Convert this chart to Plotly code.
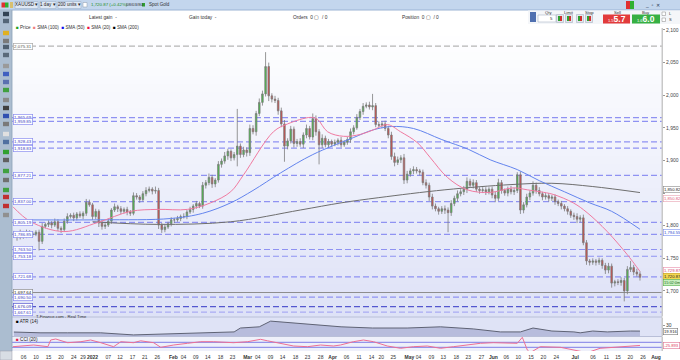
import plotly.graph_objects as go

W, H = 680, 360
def px(x): return x / W
def py(y): return 1 - y / H

# ---------------- data ----------------
bars = list(range(200))
close = [1786, 1782, 1789, 1784, 1790, 1787, 1787, 1790, 1776, 1799,
         1802, 1804, 1801, 1806, 1796, 1794, 1807, 1814, 1816, 1812,
         1818, 1815, 1819, 1836, 1832, 1814, 1822, 1804, 1799, 1801,
         1807, 1824, 1829, 1826, 1822, 1825, 1821, 1819, 1846, 1844,
         1840, 1849, 1854, 1856, 1853, 1854, 1801, 1794, 1798, 1803,
         1809, 1809, 1811, 1814, 1814, 1821, 1825, 1830, 1834, 1830,
         1862, 1866, 1874, 1864, 1870, 1894, 1899, 1907, 1914, 1904,
         1909, 1922, 1909, 1916, 1912, 1949, 1944, 1972, 1989, 2002,
         2044, 1999, 1994, 1992, 1976, 1956, 1922, 1930, 1948, 1926,
         1929, 1925, 1939, 1949, 1936, 1964, 1944, 1924, 1934, 1924,
         1929, 1925, 1928, 1931, 1924, 1928, 1932, 1944, 1950, 1966,
         1975, 1983, 1985, 1982, 1984, 1955, 1954, 1956, 1949, 1939,
         1906, 1897, 1901, 1904, 1870, 1879, 1884, 1886, 1884, 1882,
         1866, 1862, 1844, 1830, 1826, 1822, 1826, 1824, 1820, 1834,
         1842, 1849, 1852, 1856, 1868, 1862, 1866, 1856, 1854, 1855,
         1852, 1856, 1847, 1842, 1866, 1854, 1850, 1856, 1852, 1854,
         1878, 1824, 1832, 1844, 1850, 1862, 1854, 1849, 1844, 1846,
         1842, 1844, 1837, 1834, 1830, 1826, 1822, 1816, 1814, 1810,
         1812, 1774, 1746, 1744, 1746, 1744, 1747, 1739, 1732, 1738,
         1712, 1714, 1713, 1716, 1700, 1733, 1736, 1729, 1726, 1720.87]
first_open = 1788
upper_wick = [4, 3, 5, 3, 4, 3, 4, 3, 4, 5,
              3, 4, 3, 5, 4, 3, 4, 5, 3, 4,
              3, 4, 3, 5, 4, 3, 4, 3, 5, 3,
              4, 3, 5, 3, 4, 3, 4, 3, 5, 4,
              3, 4, 5, 4, 3, 6, 4, 3, 4, 3,
              4, 3, 4, 3, 5, 3, 4, 3, 4, 3,
              5, 4, 6, 4, 3, 5, 4, 6, 4, 3,
              4, 57, 4, 5, 4, 6, 5, 4, 6, 5,
              22, 6, 4, 5, 4, 5, 6, 4, 5, 4,
              4, 5, 4, 6, 4, 8, 5, 4, 6, 4,
              4, 3, 4, 3, 5, 3, 4, 5, 4, 5,
              4, 5, 4, 5, 18, 4, 5, 4, 5, 4,
              5, 6, 5, 4, 6, 5, 4, 5, 4, 3,
              4, 5, 4, 5, 4, 3, 4, 5, 4, 5,
              4, 5, 4, 5, 6, 4, 5, 4, 3, 4,
              4, 3, 4, 5, 6, 4, 3, 4, 5, 4,
              4, 5, 4, 5, 4, 6, 4, 5, 3, 4,
              4, 3, 4, 3, 4, 3, 4, 3, 4, 5,
              4, 5, 4, 3, 4, 3, 4, 3, 4, 5,
              4, 3, 4, 5, 4, 5, 10, 4, 5, 4]
lower_wick = [4, 5, 3, 4, 3, 5, 4, 3, 14, 4,
              3, 4, 5, 3, 4, 5, 3, 4, 3, 5,
              4, 3, 5, 4, 3, 5, 4, 6, 5, 4,
              3, 4, 3, 5, 4, 3, 5, 4, 3, 4,
              5, 3, 4, 3, 5, 4, 6, 5, 4, 3,
              4, 5, 3, 4, 3, 4, 3, 5, 4, 3,
              4, 5, 4, 6, 5, 4, 5, 4, 6, 5,
              4, 18, 5, 4, 6, 5, 4, 6, 4, 5,
              4, 8, 5, 4, 6, 5, 24, 5, 4, 6,
              5, 4, 6, 5, 4, 5, 6, 30, 5, 4,
              5, 4, 3, 5, 4, 3, 4, 5, 4, 3,
              4, 5, 3, 4, 5, 4, 3, 5, 4, 5,
              5, 6, 4, 5, 6, 5, 4, 5, 4, 5,
              4, 5, 6, 5, 4, 5, 4, 6, 30, 5,
              4, 5, 4, 5, 6, 4, 5, 4, 5, 4,
              5, 4, 5, 6, 4, 5, 4, 5, 4, 5,
              4, 6, 5, 4, 5, 4, 5, 4, 5, 4,
              5, 4, 5, 4, 5, 4, 5, 4, 5, 6,
              5, 4, 6, 5, 4, 5, 4, 5, 6, 5,
              7, 5, 4, 5, 16, 5, 4, 5, 4, 5]

open_ = [first_open] + close[:-1]
high = [max(o, c) + u for o, c, u in zip(open_, close, upper_wick)]
low = [min(o, c) - l for o, c, l in zip(open_, close, lower_wick)]

sma20_x = [-0.3, 5.4, 15.9, 26.7, 37.1, 45.7, 55.2, 62.5, 68.9, 73, 82.5, 87, 94.3, 96.5,
           99.7, 104.8, 110.2, 114.3, 118.7, 122.9, 128.3, 132.4, 137.8, 144.1, 151.4,
           158.7, 163.2, 167.3, 171.4, 177.8, 182.2, 188.6, 194.9, 199]
sma20_v = [1829, 1806, 1791, 1805, 1822, 1825, 1825, 1835, 1852, 1878, 1944, 1956, 1966, 1963,
           1944, 1937, 1940, 1947, 1955, 1944, 1927, 1904, 1874, 1855, 1851,
           1858, 1855, 1852, 1848, 1835, 1820, 1791, 1756, 1730]
sma50_x = [-0.3, 27.6, 49.8, 60, 68.9, 76, 84.8, 95, 107.9, 114.3, 120, 127, 136, 144.5,
           151.4, 160, 167, 175, 183, 190, 199]
sma50_v = [1809, 1809, 1811, 1819, 1835, 1854, 1881, 1909, 1935, 1947, 1952, 1949, 1932, 1917,
           1901, 1886, 1869, 1852, 1835, 1822, 1794.5]
sma200_x = [25, 45.7, 68.9, 91, 104, 116, 137, 158, 171, 184, 199]
sma200_v = [1806, 1802, 1806, 1824, 1835, 1843, 1855, 1863, 1865, 1860, 1850.8]

atr_x = [0, 8.6, 17, 27.6, 38, 49, 59, 70, 72, 78, 81.6, 85, 91, 97.5, 104, 114, 125, 135.6,
         146, 154.6, 161, 165, 171, 178, 180, 184, 188.6, 196, 199]
atr_v = [18.3, 17, 17, 17, 13.5, 15, 17, 18.5, 25, 27, 36.5, 35, 32, 30, 27, 25, 25, 27,
         23.5, 18.5, 18.5, 25, 20, 18.5, 17, 20, 18.5, 20, 19.9]

cci_x = [-0.3, 6.3, 10.8, 11.7, 13.3, 17.1, 21.3, 24.4, 27.6, 31.7, 34, 38, 40.3, 44.4, 46.7,
         50.8, 55.2, 59.4, 63.5, 69.8, 74.3, 78.4, 80.6, 84.8, 88.9, 93.3, 97.5, 101.6, 103.8,
         107.9, 111.1, 114.3, 118.7, 122.9, 127, 131.4, 135.6, 139.7, 144.1, 148.3, 152.4,
         156.8, 160, 161.6, 163.2, 164.1, 167.3, 173.7, 177.8, 182.2, 186.3, 190.5, 195.9, 199]
cci_v = [-76, -8, -76, 192, 232, 84, 124, 192, 84, -76, 124, 84, 160, 84, -100,
         -8, 60, 124, 124, 84, 124, 220, 160, 60, -48, -76, -8, -48, -8,
         124, 192, 124, -48, -140, -76, -48, -140, -76, -8, 60, 84,
         84, 60, 300, -208, -316, -76, -100, -180, -316, -140, -100, -48, -26]

level_vals = [2075.31, 1965.69, 1959.85, 1928.43, 1918.83, 1877.21, 1837.00, 1805.19,
              1786.85, 1763.50, 1753.18, 1721.68, 1697.64, 1690.50, 1676.09, 1667.61]
level_text = ["2,075.31", "1,965.69", "1,959.85", "1,928.43", "1,918.83", "1,877.21", "1,837.00",
              "1,805.19", "1,786.85", "1,763.50", "1,753.18", "1,721.68", "1,697.64", "1,690.50",
              "1,676.09", "1,667.61"]
level_kind = ["gray", "blue", "blue", "blue", "blue", "blue", "blue", "blue",
              "blue", "blue", "blue", "blue", "solid", "blue", "navy", "light"]

ytick_vals = [1700, 1750, 1800, 1850, 1900, 1950, 2000, 2050, 2100]
# the 1,850 tick label is hidden behind the SMA value boxes in the reference
ytick_text = ["1,700", "1,750", "1,800", "", "1,900", "1,950", "2,000", "2,050", "2,100"]

xtick_pos = [3.1, 7, 11, 15, 19, 22, 25, 30, 33.7, 37.7, 41.6, 45.6, 50.7, 53.9, 57.8, 61.6,
             65.7, 69.5, 74.3, 77.5, 81.6, 85.4, 89.5, 93.3, 97.5, 101.3, 105.7, 109.7, 113.7,
             116.8, 120.6, 125.7, 128.6, 132.7, 136.5, 140.6, 144.4, 148.6, 152.4, 156.5,
             160.3, 164.4, 168.3, 172.4, 178.4, 184.1, 188.3, 192, 195.9, 200, 204.1]
xtick_text = ["06", "10", "15", "20", "24", "29", "<b>2022</b>", "07", "12", "17", "21", "26",
              "<b>Feb</b>", "04", "09", "14", "18", "23", "<b>Mar</b>", "04", "09", "14", "18",
              "23", "28", "<b>Apr</b>", "06", "11", "14", "20", "25", "<b>May</b>", "04", "09",
              "13", "18", "23", "27", "<b>Jun</b>", "06", "10", "15", "20", "24", "<b>Jul</b>",
              "06", "11", "15", "20", "26", "<b>Aug</b>"]

# ---------------- figure ----------------
FONT = "Liberation Sans, Arial, sans-serif"
X0, X1 = 12, 662
XR = [-0.6, 206]
fig = go.Figure()

fig.add_trace(go.Candlestick(
    x=bars, open=open_, high=high, low=low, close=close,
    increasing=dict(fillcolor="#45c045", line=dict(color="#7c7c7c", width=0.8)),
    decreasing=dict(fillcolor="#d24a48", line=dict(color="#7c7c7c", width=0.8)),
    whiskerwidth=0, xaxis="x", yaxis="y", showlegend=False, hoverinfo="skip"))

fig.add_trace(go.Scatter(x=sma200_x, y=sma200_v, mode="lines", line=dict(color="#6e6e6e", width=1, shape="spline"),
                         xaxis="x", yaxis="y", showlegend=False, hoverinfo="skip"))
fig.add_trace(go.Scatter(x=sma50_x, y=sma50_v, mode="lines", line=dict(color="#6384ee", width=1, shape="spline"),
                         xaxis="x", yaxis="y", showlegend=False, hoverinfo="skip"))
fig.add_trace(go.Scatter(x=sma20_x, y=sma20_v, mode="lines", line=dict(color="#f07aa0", width=1, shape="spline"),
                         xaxis="x", yaxis="y", showlegend=False, hoverinfo="skip"))

fig.add_trace(go.Scatter(x=atr_x, y=atr_v, mode="lines", fill="tozeroy", fillcolor="#b7bcdc",
                         line=dict(color="#5f6375", width=1), xaxis="x2", yaxis="y2",
                         showlegend=False, hoverinfo="skip"))
fig.add_trace(go.Scatter(x=cci_x, y=cci_v, mode="lines", line=dict(color="#ee6f93", width=1),
                         xaxis="x3", yaxis="y3", showlegend=False, hoverinfo="skip"))

main_dom = [py(316), py(28)]
atr_dom = [py(336), py(318)]
cci_dom = [py(351), py(337)]

hidden_x = dict(range=XR, domain=[px(X0), px(X1)], showticklabels=False, ticks="",
                showgrid=False, zeroline=False, showline=False, fixedrange=True)
fig.update_layout(
    width=W, height=H, margin=dict(l=0, r=0, t=0, b=0),
    paper_bgcolor="#ffffff", plot_bgcolor="rgba(0,0,0,0)",
    font=dict(family=FONT, size=5, color="#333333"),
    xaxis=dict(hidden_x, anchor="y", rangeslider=dict(visible=False)),
    xaxis2=dict(hidden_x, anchor="y2", matches="x"),
    xaxis3=dict(hidden_x, anchor="y3", matches="x", showticklabels=True,
                tickmode="array", tickvals=xtick_pos, ticktext=xtick_text, tickangle=0,
                tickfont=dict(size=5, color="#333333"), ticks="", ticklabelstandoff=2),
    yaxis=dict(domain=main_dom, range=[1661.6, 2103], side="right", anchor="x",
               tickmode="array", tickvals=ytick_vals, ticktext=ytick_text,
               tickfont=dict(size=5, color="#444444"), ticks="outside", ticklen=2,
               tickcolor="#999999", showgrid=False, zeroline=False, showline=True,
               linecolor="#c8c8c8", linewidth=1, fixedrange=True),
    yaxis2=dict(domain=atr_dom, range=[11.7, 41.7], side="right", anchor="x2",
                tickmode="array", tickvals=[30], ticktext=["30"], tickfont=dict(size=5),
                ticks="outside", ticklen=2, tickcolor="#999999", showgrid=False,
                zeroline=False, showline=True, linecolor="#c8c8c8", fixedrange=True),
    yaxis3=dict(domain=cci_dom, range=[-248, 312], side="right", anchor="x3",
                showticklabels=False, ticks="", showgrid=False, zeroline=False,
                showline=True, linecolor="#c8c8c8", fixedrange=True),
)

shapes = []
annos = []

def rect(x0, y0, x1, y1, fill, line=None, lw=0, layer="above"):
    shapes.append(dict(type="rect", xref="paper", yref="paper", x0=px(x0), x1=px(x1),
                       y0=py(y1), y1=py(y0), fillcolor=fill,
                       line=dict(color=line or fill, width=lw), layer=layer))

def text(x, y, s, size=5, color="#333333", anchor="left", bg=None, border=None, bw=0, yref="paper"):
    d = dict(xref="paper", yref=yref, x=px(x), y=(py(y) if yref == "paper" else y), text=s,
             showarrow=False, xanchor=anchor, yanchor="middle",
             font=dict(size=size, color=color, family=FONT))
    if bg:
        d["bgcolor"] = bg
    if border:
        d["bordercolor"] = border
        d["borderwidth"] = bw
        d["borderpad"] = 0.4
    annos.append(d)

# main chart gradient background
N = 36
top, bot = 28, 316
c0, c1 = (255, 255, 255), (222, 226, 247)
for i in range(N):
    t = i / (N - 1)
    col = "rgb(%d,%d,%d)" % tuple(round(a + (b - a) * t) for a, b in zip(c0, c1))
    ya = top + (bot - top) * i / N
    yb = top + (bot - top) * (i + 1) / N + 0.5
    rect(X0, ya, X1, yb, col, layer="below")
# ATR / CCI backgrounds
rect(X0, 316, X1, 336.5, "#dfe3f6", layer="below")
rect(X0, 336.5, X1, 351, "#eef0fa", layer="below")
shapes.append(dict(type="line", xref="paper", yref="paper", x0=px(X0), x1=px(X1), y0=py(317), y1=py(317),
                   line=dict(color="#b9bfd8", width=1), layer="below"))
shapes.append(dict(type="line", xref="paper", yref="paper", x0=px(X0), x1=px(X1), y0=py(336.5), y1=py(336.5),
                   line=dict(color="#b9bfd8", width=1), layer="below"))
# CCI +/-100 lines
for v in (100, -100):
    shapes.append(dict(type="line", xref="paper", yref="y3", x0=px(X0), x1=px(X1), y0=v, y1=v,
                       line=dict(color="#7d7de6", width=1), layer="below"))

# horizontal levels + left boxes
kind_style = {
    "gray": ("#b5b5b5", "6px,3px", "#a9a9a9", "#555555"),
    "blue": ("#8f92f2", "6px,3px", "#8a8ef0", "#3c3cc0"),
    "navy": ("#5457cf", "6px,3px", "#5a5ad0", "#2d2da8"),
    "light": ("#a9abf4", "6px,3px", "#8a8ef0", "#3c3cc0"),
    "solid": ("#8e8e8e", "solid", "#8e8e8e", "#222222"),
}
for v, t, k in zip(level_vals, level_text, level_kind):
    lc, dash, bc, tc = kind_style[k]
    shapes.append(dict(type="line", xref="paper", yref="y", x0=px(X0), x1=px(X1), y0=v, y1=v,
                       line=dict(color=lc, width=1.2, dash=dash), layer="below"))
    text(12.5, v, t, size=4.4, color=tc, bg="#ffffff", border=bc, bw=0.7, yref="y")

# right axis value boxes
text(662.5, 1855.0, "1,850.82", size=4.2, color="#222222", bg="#ffffff", border="#888888", bw=0.6, yref="y")
text(662.5, 1842.0, "1,850.82", size=4.2, color="#e0607a", bg="#ffffff", border="#e8a0b0", bw=0.6, yref="y")
text(662.5, 1789.0, "1,794.55", size=4.2, color="#3050d0", bg="#ffffff", border="#7a90ee", bw=0.6, yref="y")
text(662.5, 1731.5, "1,729.87", size=4.2, color="#d0406a", bg="#ffffff", border="#e88aa8", bw=0.6, yref="y")
text(662.5, 1722.5, "1,720.87", size=4.2, color="#222222", bg="#f3d850", border="#c9a820", bw=0.6, yref="y")
text(662.5, 1713.5, "15:02:0m", size=3.9, color="#1c6a1c", bg="#c8efc0", border="#58b050", bw=0.6, yref="y")
text(662.5, 331.3, "19.916", size=4.2, color="#222222", bg="#ffffff", border="#777777", bw=0.6)
text(662.5, 345.5, "-25.893", size=4.2, color="#e04060", bg="#ffffff", border="#e07090", bw=0.6)

# panel labels
text(34, 316.2, "T-Finance.com - Real Time", size=4.2, color="#333333")
text(13.5, 321.0, "<span style='color:#000'>■</span> ATR (14)", size=4.6, color="#222222")
text(13.5, 339.5, "<span style='color:#e8204a'>■</span> CCI (20)", size=4.6, color="#222222")

# legend row
rect(12, 24, 200, 30.5, "#ffffff")
text(14, 27.3, "<span style='color:#20a020'>■</span> Price  "
               "<span style='color:#f08080'>■</span> SMA (100)  "
               "<span style='color:#1010ee'>■</span> SMA (50)  "
               "<span style='color:#ee1040'>■</span> SMA (20)  "
               "<span style='color:#000000'>■</span> SMA (200)", size=4.6, color="#333333")

# top bar
rect(0, 0, 680, 10, "#c3d6ed")
shapes.append(dict(type="line", xref="paper", yref="paper", x0=0, x1=1, y0=py(10), y1=py(10),
                   line=dict(color="#9bb4d4", width=1)))
rect(1.5, 2.5, 5, 7.5, "#e03030")
rect(5, 2.5, 8.5, 7.5, "#30b030")
rect(10, 2, 13, 8, "#d8c070")
for x0, x1, s in ((15, 38, "XAUUSD ▾"), (40, 56, "1 day ▾"), (58, 81, "200 units ▾")):
    rect(x0, 1.5, x1, 8.5, "#dfe8f4", line="#9fb3cc", lw=0.6)
    text((x0 + x1) / 2, 5, s, size=4.6, color="#222222", anchor="center")
rect(83, 2.5, 87, 7, "#ffffff", line="#8899aa", lw=0.5)
text(88.5, 5, "1,720.87 (+0.42%)", size=4.4, color="#1e8e1e")
text(124, 5, "08/03/80", size=4.4, color="#333333")
rect(142, 3, 145, 6.5, "#30a030")
text(146.5, 5, "Spot Gold", size=4.6, color="#333333")
rect(626, 1, 630, 9, "#e03030")
rect(630, 1, 634, 9, "#30b030")
text(652, 5, "_  ▫  ✕", size=5, color="#2a3a55", anchor="center")

# left toolbar
rect(0, 10, 12, 351, "#abbdd0")
shapes.append(dict(type="line", xref="paper", yref="paper", x0=px(12), x1=px(12), y0=py(10), y1=py(351),
                   line=dict(color="#8ea2b8", width=0.8)))
icon_y = [14, 21, 33, 41, 47, 55, 66, 74, 82, 90, 100, 108, 116, 124, 134, 142, 152, 160, 171, 180, 190, 197, 206, 215]
icon_c = ["#334455", "#556677", "#e0b020", "#7a7a7a", "#506070", "#5a6a7a", "#9a9a9a", "#4060c0",
          "#5a70b0", "#40a040", "#8a8a8a", "#404040", "#3050b0", "#7a7a7a", "#e0e0e0", "#5070a0",
          "#30a030", "#606060", "#40a040", "#707070", "#40a040", "#c03030", "#c03030", "#909090"]
for yy, cc in zip(icon_y, icon_c):
    rect(3, yy - 2.2, 9, yy + 2.2, cc)
rect(0, 351, 12, 360, "#d8dde4", line="#99a", lw=0.5)

# second row (account info + trading widget)
text(103, 17, "Latest gain  -", size=4.8, anchor="center")
text(203, 17, "Gain today  -", size=4.8, anchor="center")
text(310, 17, "Orders  0 ▢  / 0", size=4.8, anchor="center")
text(420, 17, "Position  0 ▢  / 0", size=4.8, anchor="center")
rect(528, 10.5, 680, 24, "#f4f6f9")
rect(530, 12, 536, 22, "#5070b0")
text(548, 12.3, "Qty", size=4.2, anchor="center")
rect(538, 15, 556, 22, "#ffffff", line="#9aa6b8", lw=0.5)
text(555, 18.5, "5", size=4.4, anchor="right")
text(569, 12.3, "Limit", size=4.2, anchor="center")
text(589, 12.3, "Stop", size=4.2, anchor="center")
for xx in (560, 569, 580, 589):
    rect(xx - 3.5, 14.5, xx + 3.5, 22.5, "#e2e6ec", line="#9aa6b8", lw=0.5)
    rect(xx - 2, 16, xx, 21, "#30a030")
    rect(xx, 16, xx + 2, 21, "#d03030")
text(617, 12.3, "Sell", size=4.2, anchor="center")
text(646, 12.3, "Buy", size=4.2, anchor="center")
rect(603, 14.5, 630, 23.5, "#e23b3b")
rect(632, 14.5, 660, 23.5, "#36b043")
text(616.5, 19, "<span style='font-size:4px'>1.5</span><b>5.7</b>", size=8.5, color="#ffffff", anchor="center")
text(646, 19, "<span style='font-size:4px'>1.6</span><b>6.0</b>", size=8.5, color="#ffffff", anchor="center")
rect(662, 12, 665.5, 15.5, "#ffffff", line="#888", lw=0.5)
rect(662, 18, 665.5, 21.5, "#ffffff", line="#888", lw=0.5)
text(667, 13.8, "L", size=4)
text(667, 19.8, "S", size=4)

# right axis area border
shapes.append(dict(type="line", xref="paper", yref="paper", x0=px(X1), x1=px(X1), y0=py(351), y1=py(28),
                   line=dict(color="#c8c8c8", width=1)))

fig.update_layout(shapes=shapes, annotations=annos)
fig.write_html("out.html")
